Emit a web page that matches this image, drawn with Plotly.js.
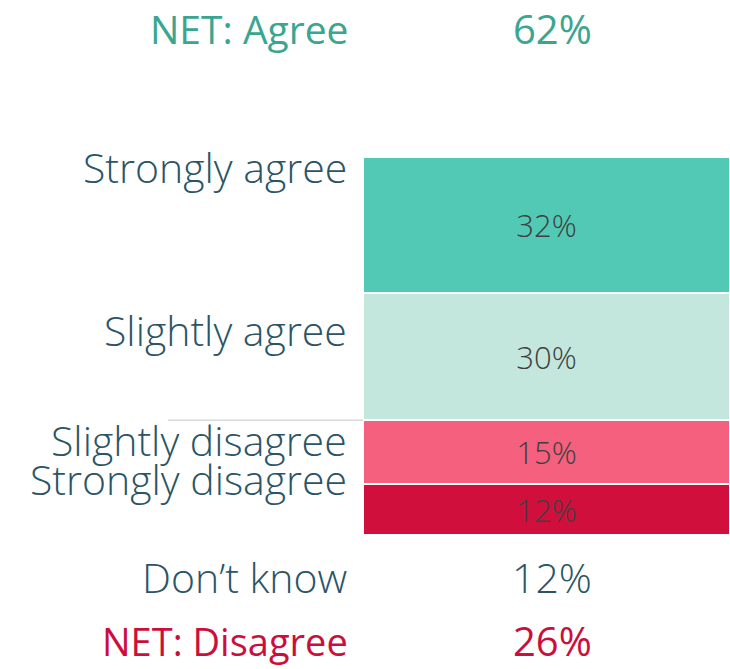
<!DOCTYPE html>
<html>
<head>
<meta charset="utf-8">
<script src="https://cdn.plot.ly/plotly-3.0.1.min.js"></script>
<style>
  html, body { margin: 0; padding: 0; background: #fff; }
  #chart { width: 730px; height: 669px; }
</style>
</head>
<body>
<div id="chart"></div>
<script>
// categories, bottom of the stack first
var categories = ['Strongly disagree', 'Slightly disagree', 'Slightly agree', 'Strongly agree'];
var values = [12, 15, 30, 32];
var colors = ['#d10f3c', '#f4607e', '#c3e6dd', '#52c9b5'];

var netAgree = 62;
var netDisagree = 26;
var dontKnow = 12;

var labelFont = '"Open Sans", Lato, sans-serif';
var labelColor = '#2b5566';

function initGrafico() {
    var data = categories.map(function (cat, i) {
        return {
            type: 'bar',
            x: ['all'],
            y: [values[i]],
            name: cat,
            marker: {color: colors[i], line: {color: '#ffffff', width: 2}},
            text: [values[i] + '%'],
            textposition: 'inside',
            insidetextanchor: 'middle',
            textfont: {family: labelFont, size: 31, color: '#404040', weight: 300},
            hoverinfo: 'skip'
        };
    });

    var total = values.reduce(function (a, b) { return a + b; }, 0);
    var disagreeTop = values[0] + values[1];

    // left hand labels, placed next to each segment
    var labelY = [13.2, 22.3, 48.3, 86.6];
    var annotations = categories.map(function (cat, i) {
        return {
            text: cat, xref: 'paper', yref: 'y', x: 0, y: labelY[i],
            xanchor: 'right', yanchor: 'middle', xshift: -14, showarrow: false,
            font: {family: labelFont, size: 41, color: labelColor, weight: 300}
        };
    });

    // NET rows and don't know
    var rows = [
        {label: 'NET: Agree', value: netAgree + '%', y: 1.34, color: '#3aa690', weight: 400, size: 39},
        {label: 'Don\u2019t know', value: dontKnow + '%', y: -0.112, color: labelColor, weight: 300, size: 41},
        {label: 'NET: Disagree', value: netDisagree + '%', y: -0.28, color: '#cc0e3d', weight: 400, size: 38}
    ];
    rows.forEach(function (r) {
        annotations.push({
            text: r.label, xref: 'paper', yref: 'paper', x: 0, y: r.y,
            xanchor: 'right', yanchor: 'middle', xshift: -14, showarrow: false,
            borderpad: 0,
            font: {family: labelFont, size: r.size, color: r.color, weight: r.weight}
        });
        annotations.push({
            text: r.value, xref: 'paper', yref: 'paper', x: 0.515, y: r.y,
            xanchor: 'center', yanchor: 'middle', showarrow: false,
            borderpad: 0,
            font: {family: labelFont, size: r.weight === 300 ? 41 : 40, color: r.color, weight: r.weight}
        });
    });

    var layout = {
        width: 730,
        height: 669,
        margin: {l: 363, r: 0, t: 157, b: 134},
        barmode: 'stack',
        bargap: 0,
        showlegend: false,
        paper_bgcolor: '#ffffff',
        plot_bgcolor: '#ffffff',
        xaxis: {visible: false, range: [-0.5, 0.5], fixedrange: true},
        yaxis: {visible: false, range: [0, total], fixedrange: true},
        annotations: annotations,
        shapes: [{
            type: 'line', xref: 'paper', yref: 'y',
            x0: -0.531, x1: 0, y0: disagreeTop, y1: disagreeTop,
            line: {color: '#d9d9d9', width: 1.5}
        }]
    };

    Plotly.newPlot('chart', data, layout, {displayModeBar: false, staticPlot: true});
}

document.addEventListener('DOMContentLoaded', function () {
    initGrafico();
});
</script>
</body>
</html>
